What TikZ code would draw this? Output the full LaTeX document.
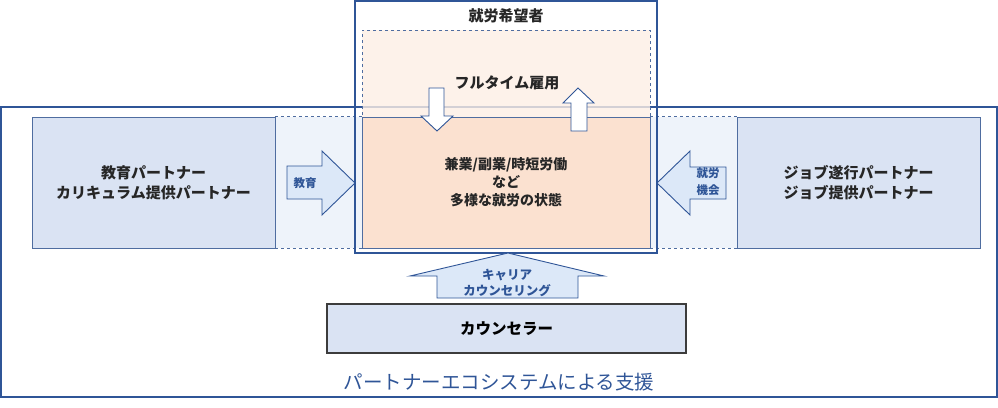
\documentclass[tikz,border=0pt]{standalone}
\usepackage{fontspec}
\newfontfamily\jp{Noto Sans CJK JP}
\usetikzlibrary{positioning}
\definecolor{frameblue}{HTML}{2F5597}
\definecolor{boxline}{HTML}{4F6DA0}
\definecolor{boxfill}{HTML}{DAE3F3}
\definecolor{bridgefill}{HTML}{EEF3FA}
\definecolor{peachlight}{HTML}{FDEFE5}
\definecolor{peach}{HTML}{FBE1D0}
\definecolor{arrowfill}{HTML}{DCE8F8}
\definecolor{ink}{HTML}{262626}

\tikzset{
  ecobox/.style={draw=frameblue, line width=1.1pt, inner sep=0pt},
  seekerbox/.style={draw=frameblue, line width=1.1pt, inner sep=0pt},
  timebox/.style={draw=boxline, dashed, line width=0.7pt, fill=peachlight, fill opacity=0.8, inner sep=0pt},
  workbox/.style={draw=boxline, line width=0.9pt, fill=peach, inner sep=0pt, align=center,
    text=ink, font=\jp\bfseries\fontsize{14}{18}\selectfont},
  partnerbox/.style={draw=boxline, line width=0.9pt, fill=boxfill, inner sep=0pt, align=center,
    text=ink, font=\jp\bfseries\fontsize{15}{20}\selectfont},
  bridge/.style={fill=bridgefill, inner sep=0pt},
  bridgeline/.style={draw=boxline, dashed, line width=0.7pt},
  counselbox/.style={draw=ink!90, line width=1.4pt, fill=boxfill, inner sep=0pt,
    text=black, font=\jp\bfseries\fontsize{15.5}{18}\selectfont},
  blockarrow/.style={draw=frameblue, line width=0.9pt, fill=arrowfill, line join=miter},
  whitearrow/.style={draw=frameblue, line width=0.9pt, fill=white, line join=miter},
  headtext/.style={text=ink, font=\jp\bfseries\fontsize{15}{18}\selectfont},
  arrowtext/.style={text=frameblue, align=center, inner sep=0pt,
    font=\jp\bfseries\fontsize{11.5}{17}\selectfont},
  ecotext/.style={text=frameblue, font=\jp\fontsize{19.5}{22}\selectfont}
}

\begin{document}
\begin{tikzpicture}[x=1pt, y=-1pt]
  \useasboundingbox (0,0) rectangle (998,407);

  % partner ecosystem
  \node[ecobox, minimum width=996, minimum height=290] (eco) at (499,252) {};
  \node[ecotext] (ecolabel) at (499,382) {パートナーエコシステムによる支援};

  % bridges between partners and job seeker
  \node[bridge, minimum width=87, minimum height=131] (leftbridge) at (318.5,182.5) {};
  \node[bridge, minimum width=87, minimum height=131] (rightbridge) at (693.5,182.5) {};
  \draw[bridgeline] (leftbridge.north west) -- (leftbridge.north east);
  \draw[bridgeline] (leftbridge.south west) -- (leftbridge.south east);
  \draw[bridgeline] (rightbridge.north west) -- (rightbridge.north east);
  \draw[bridgeline] (rightbridge.south west) -- (rightbridge.south east);

  \node[partnerbox, minimum width=243, minimum height=131] (eduPartner) at (153.5,182.5)
    {教育パートナー\\カリキュラム提供パートナー};
  \node[partnerbox, minimum width=243, minimum height=131] (jobPartner) at (858.5,182.5)
    {ジョブ遂行パートナー\\ジョブ提供パートナー};

  % job seeker
  \node[seekerbox, minimum width=302, minimum height=252] (seeker) at (506,127) {};
  \node[headtext] (seekerLabel) at (506,16) {就労希望者};
  \node[timebox, minimum width=288, minimum height=218] (fulltime) at (506,139) {};
  \node[headtext] (fulltimeLabel) at (507,83) {フルタイム雇用};
  \node[workbox, minimum width=288, minimum height=131] (multiWork) at (506,182.5)
    {兼業/副業/時短労働\\など\\多様な就労の状態};

  % moves between full time and multiple work
  \draw[whitearrow] (429,88) -- (444,88) -- (444,116) -- (453,116) -- (437,131)
    -- (421,116) -- (429,116) -- cycle;
  \draw[whitearrow] (578,88) -- (594,103) -- (587,103) -- (587,131) -- (571,131)
    -- (571,103) -- (563,103) -- cycle;

  % support arrows
  \draw[blockarrow] (287,166) -- (322,166) -- (322,151) -- (355,183) -- (322,215)
    -- (322,199) -- (287,199) -- cycle;
  \node[arrowtext] (eduLabel) at (305,183) {教育};
  \draw[blockarrow] (657,183) -- (690,151) -- (690,167) -- (726,167) -- (726,199)
    -- (690,199) -- (690,215) -- cycle;
  \node[arrowtext] (jobLabel) at (708,182) {就労\\機会};
  \draw[blockarrow] (508,253) -- (604,276) -- (578,276) -- (578,298) -- (437,298)
    -- (437,276) -- (410,276) -- cycle;
  \node[arrowtext, font=\jp\bfseries\fontsize{12.5}{16}\selectfont] (careerLabel) at (507,283)
    {キャリア\\カウンセリング};

  % counselor
  \node[counselbox, minimum width=359, minimum height=49] (counselor) at (506.5,328.5)
    {カウンセラー};
\end{tikzpicture}
\end{document}
